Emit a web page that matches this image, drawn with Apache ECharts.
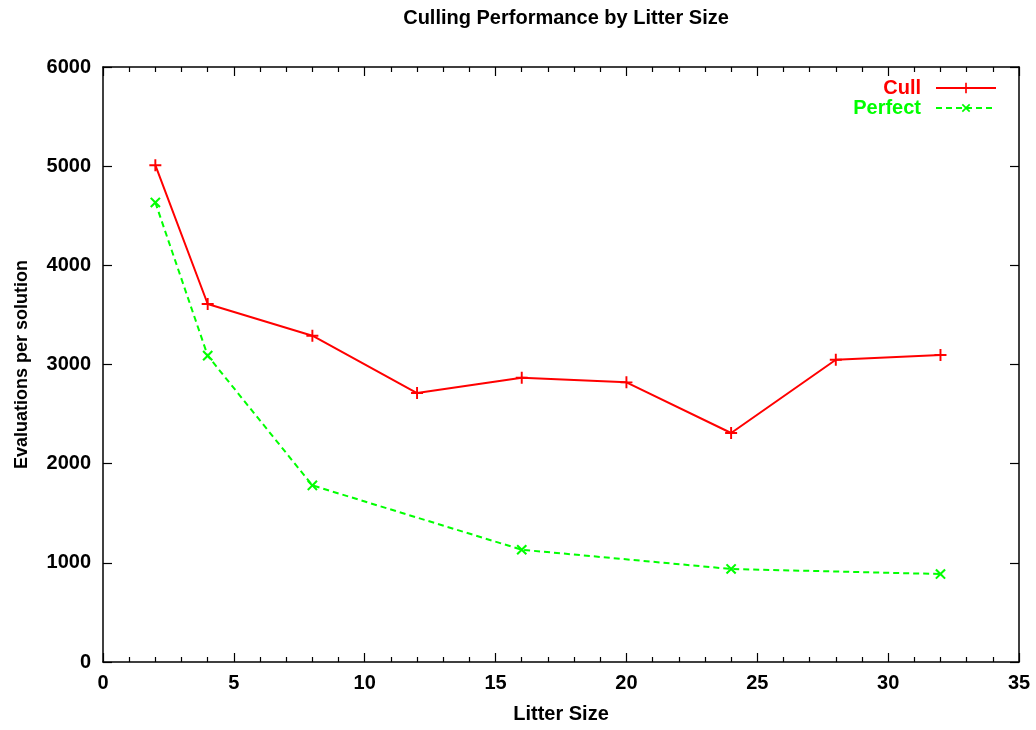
<!DOCTYPE html>
<html><head><meta charset="utf-8">
<script src="https://cdn.jsdelivr.net/npm/echarts@6/dist/echarts.min.js"></script>
<style>html,body{margin:0;padding:0;background:#fff}#c{width:1036px;height:730px}</style>
</head><body><div id="c"></div>
<script>
const cullX = [2, 4, 8, 12, 16, 20, 24, 28, 32];
const cullY = [5010, 3610, 3290, 2712, 2867, 2820, 2309, 3048, 3096];
const perfX = [2, 4, 8, 16, 24, 32];
const perfY = [4634, 3089, 1781, 1132, 938, 887];
const FONT = '"Liberation Sans", Arial, sans-serif';
const PLUS = 'path://M4.2,0 H5.8 V4.2 H10 V5.8 H5.8 V10 H4.2 V5.8 H0 V4.2 H4.2 Z';
const RED = '#ff0000', GREEN = '#00ff00';
const chart = echarts.init(document.getElementById('c'), null, {renderer: 'canvas'});
const tickMajor = {show: true, inside: true, length: 9, lineStyle: {color: '#000', width: 1.2}};
const tickMinor = {show: true, splitNumber: 5, length: 5, lineStyle: {color: '#000', width: 1.2}};
const axLine = {show: true, onZero: false, lineStyle: {color: '#000', width: 1.5}};
const lblFont = {fontFamily: FONT, fontWeight: 'bold', fontSize: 20, color: '#000'};
chart.setOption({
  animation: false,
  backgroundColor: '#fff',
  title: {text: 'Culling Performance by Litter Size', left: 561, textAlign: 'center', top: 3,
    textStyle: {fontFamily: FONT, fontWeight: 'bold', fontSize: 20, color: '#000'}},
  grid: {left: 103, right: 17, top: 67, bottom: 68},
  legend: [
    {data: [{name: 'Cull', textStyle: {color: RED}}], right: 39, top: 78, align: 'right', padding: 0,
     itemWidth: 60, itemHeight: 13, itemGap: 0,
     textStyle: {fontFamily: FONT, fontWeight: 'bold', fontSize: 20, padding: [0, 10, 0, 0]}},
    {data: [{name: 'Perfect', textStyle: {color: GREEN}}], right: 39, top: 98, align: 'right', padding: 0,
     itemWidth: 60, itemHeight: 13, itemGap: 0,
     textStyle: {fontFamily: FONT, fontWeight: 'bold', fontSize: 20, padding: [0, 10, 0, 0]}}
  ],
  xAxis: [
    {type: 'value', position: 'bottom', min: 0, max: 35, interval: 5,
     name: 'Litter Size', nameLocation: 'middle', nameGap: 42,
     nameTextStyle: lblFont,
     axisLine: axLine, axisTick: tickMajor, minorTick: tickMinor,
     axisLabel: Object.assign({margin: 11}, lblFont), splitLine: {show: false}},
    {type: 'value', position: 'top', min: 0, max: 35, interval: 5,
     axisLine: axLine, axisTick: tickMajor, minorTick: tickMinor,
     axisLabel: {show: false}, splitLine: {show: false}}
  ],
  yAxis: [
    {type: 'value', position: 'left', min: 0, max: 6000, interval: 1000,
     name: 'Evaluations per solution', nameLocation: 'middle', nameGap: 72, nameRotate: 90,
     nameTextStyle: Object.assign({}, lblFont, {fontSize: 18}),
     axisLine: axLine, axisTick: tickMajor,
     axisLabel: Object.assign({margin: 12, formatter: v => String(v)}, lblFont),
     splitLine: {show: false}},
    {type: 'value', position: 'right', min: 0, max: 6000, interval: 1000,
     axisLine: axLine, axisTick: tickMajor,
     axisLabel: {show: false}, splitLine: {show: false}}
  ],
  series: [
    {name: 'Cull', type: 'line', xAxisIndex: 0, yAxisIndex: 0,
     data: cullX.map((x, i) => [x, cullY[i]]),
     symbol: PLUS, symbolSize: 12, showAllSymbol: true,
     lineStyle: {color: RED, width: 2}, itemStyle: {color: RED}},
    {name: 'Perfect', type: 'line', xAxisIndex: 0, yAxisIndex: 0,
     data: perfX.map((x, i) => [x, perfY[i]]),
     symbol: PLUS, symbolRotate: 45, symbolSize: 13, showAllSymbol: true,
     lineStyle: {color: GREEN, width: 2, type: [6, 4]}, itemStyle: {color: GREEN}}
  ]
});
</script></body></html>
